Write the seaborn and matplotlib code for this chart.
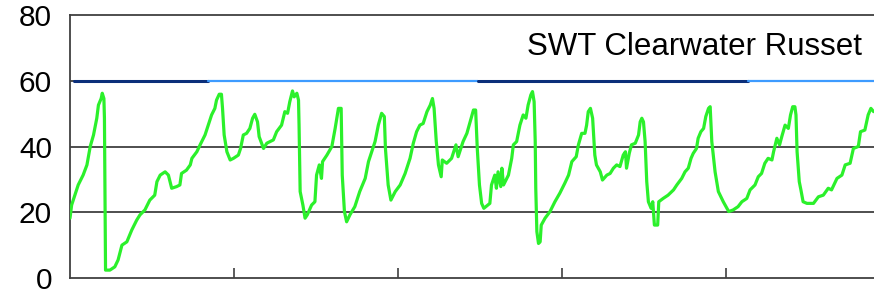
import matplotlib
matplotlib.use("Agg")
import matplotlib.pyplot as plt
import seaborn as sns
import pandas as pd

# ---- data (days, value) ----
days = [0.0, 0.3, 1.5, 2.4, 3.1, 3.7, 4.3, 4.9, 5.2, 5.7, 5.9, 6.2, 6.3, 6.4, 6.5,
        7.3, 8.2, 8.8, 9.5, 10.4, 11.3, 12.2, 12.8, 13.7, 14.6, 15.5, 15.9, 16.5,
        17.4, 18.0, 18.6, 19.5, 20.1, 20.4, 21.3, 22.0, 22.3, 23.2, 23.8, 24.7,
        25.3, 25.9, 26.5, 26.8, 27.3, 27.7, 27.9, 28.2, 28.7, 29.3, 29.9, 30.8,
        31.2, 31.7, 32.3, 32.9, 33.4, 33.8, 34.3, 34.6, 35.4, 36.0, 37.2, 37.8,
        38.7, 39.3, 39.8, 40.2, 40.7, 41.0, 41.5, 41.8, 41.9, 42.1, 42.6, 43.0,
        43.4, 44.2, 44.8, 45.1, 45.6, 46.0, 46.2, 47.0, 47.9, 48.5, 49.1, 49.6,
        49.8, 50.2, 50.6, 51.2, 52.1, 53.0, 54.0, 54.6, 55.2, 55.8, 56.4, 57.0,
        57.5, 57.7, 58.2, 58.7, 59.5, 60.4, 61.3, 62.2, 62.8, 63.4, 64.0, 64.6,
        65.3, 65.9, 66.3, 66.6, 67.0, 67.4, 67.9, 68.1, 68.9, 69.8, 70.6, 71.0,
        71.9, 72.6, 73.2, 73.8, 74.2, 74.5, 74.9, 75.3, 75.7, 76.8, 77.1, 77.7,
        78.0, 78.3, 78.8, 79.0, 79.3, 80.2, 80.8, 81.1, 81.7, 82.3, 82.9, 83.4,
        83.8, 84.3, 84.6, 84.9, 85.1, 85.2, 85.4, 85.7, 86.0, 86.2, 86.9, 87.8,
        88.7, 89.6, 90.5, 91.2, 91.8, 92.6, 93.0, 93.6, 94.2, 94.5, 94.8, 95.2,
        95.6, 96.0, 96.3, 97.0, 97.4, 98.2, 98.8, 99.4, 100.0, 100.6, 101.2,
        101.6, 101.8, 102.3, 102.7, 103.4, 104.0, 104.3, 104.6, 104.9, 105.2,
        105.5, 105.8, 106.3, 106.6, 106.9, 107.5, 107.7, 108.5, 109.4, 110.4,
        111.0, 111.9, 112.5, 113.1, 113.6, 114.0, 114.6, 114.9, 115.4, 115.9,
        116.3, 116.8, 117.1, 117.4, 118.0, 118.6, 119.5, 120.5, 121.3, 122.2,
        122.9, 123.8, 124.4, 125.3, 125.9, 126.5, 127.1, 127.7, 128.4, 128.7,
        129.3, 129.8, 130.2, 130.8, 131.4, 131.8, 132.2, 132.6, 132.8, 133.0,
        133.4, 133.7, 134.1, 134.8, 136.0, 136.9, 137.8, 138.7, 139.3, 140.3,
        141.2, 141.8, 142.7, 143.3, 144.2, 144.6, 145.4, 146.0, 146.5, 147.0]

values = [18.2, 22.2, 28.3, 31.3, 34.4, 40.0, 43.5, 48.6, 52.6, 54.6, 56.2, 54.6, 48.6, 26.3, 2.4,
          2.4, 3.4, 5.5, 10.0, 11.0, 14.6, 17.6, 19.2, 20.7, 23.7, 25.2, 29.3, 31.3,
          32.3, 31.3, 27.3, 27.8, 28.3, 31.8, 32.8, 34.4, 36.4, 38.4, 40.5, 43.5,
          46.5, 49.6, 51.6, 54.1, 55.9, 55.9, 51.6, 43.5, 38.4, 35.9, 36.4, 37.4,
          39.4, 43.5, 44.0, 45.5, 48.6, 49.8, 47.5, 43.0, 39.4, 41.0, 42.0, 44.5,
          46.5, 50.6, 50.1, 53.6, 56.9, 55.1, 56.2, 54.1, 46.5, 26.3, 22.2, 18.2,
          19.2, 22.2, 23.2, 31.3, 34.4, 30.3, 35.4, 37.4, 40.0, 45.5, 51.6, 51.6,
          31.3, 20.2, 17.1, 19.2, 21.7, 26.3, 30.3, 35.4, 38.4, 41.5, 46.5, 50.1,
          49.1, 39.4, 28.3, 23.7, 26.3, 28.3, 31.8, 36.4, 41.0, 44.5, 46.5, 47.0,
          50.6, 52.6, 54.6, 51.6, 41.5, 34.4, 30.8, 35.9, 34.9, 36.4, 40.5, 36.9,
          41.5, 44.0, 47.5, 51.1, 51.1, 39.4, 28.3, 22.7, 21.2, 22.7, 28.3, 31.3,
          27.3, 32.3, 27.8, 33.4, 28.3, 31.3, 36.4, 40.5, 41.5, 46.5, 49.6, 48.6,
          52.6, 55.7, 56.7, 53.6, 41.5, 27.3, 14.1, 10.5, 11.0, 16.1, 18.2, 20.2,
          23.2, 25.8, 28.8, 31.3, 35.4, 36.9, 40.5, 44.0, 44.0, 46.5, 50.6, 51.6,
          48.6, 37.4, 34.4, 32.3, 29.8, 31.3, 31.8, 33.4, 34.4, 33.9, 37.4,
          38.4, 33.4, 37.9, 40.5, 41.0, 43.5, 47.5, 48.6, 47.5, 41.5,
          29.3, 23.2, 21.2, 23.2, 16.1, 16.1, 23.2, 24.2, 25.2, 26.8,
          28.3, 30.3, 32.3, 33.4, 36.4, 37.9, 39.4, 42.5, 44.5, 45.5,
          49.1, 51.6, 52.1, 41.5, 32.3, 26.3, 23.2, 20.2, 20.7, 21.7,
          23.2, 24.2, 26.8, 28.3, 30.8, 31.8, 34.9, 36.4, 35.9, 38.4,
          42.5, 40.5, 43.0, 46.5, 45.5, 49.6, 52.1, 52.1, 49.6, 38.4,
          29.3, 26.8, 23.2, 22.7, 22.7, 24.7, 25.2, 27.3, 26.8, 30.3,
          31.3, 34.4, 34.9, 39.4, 40.0, 44.5, 45.0, 49.6, 51.6, 50.6]

# threshold line at 60, drawn as alternating segments
thr_days = [0.7, 25.2, 74.6, 124.0, 147.0]
thr_value = 60
thr_colors = ["#0b2f7a", "#3d9bff", "#0b2f7a", "#3d9bff"]

title = "SWT Clearwater Russet"
yticks = [0, 20, 40, 60, 80]
xticks = [30, 60, 90, 120]

df = pd.DataFrame({"day": days, "value": values})

sns.set_style("white")
plt.rcParams["font.family"] = ["Liberation Sans", "DejaVu Sans"]

fig = plt.figure(figsize=(8.74, 3.0), dpi=100)
ax = fig.add_axes([70 / 874, 22 / 300, 804 / 874, 263 / 300])

grid_col = "#404040"
for v in yticks[1:4]:
    ax.axhline(v, color=grid_col, lw=1.3, zorder=1)

for i, c in enumerate(thr_colors):
    seg = pd.DataFrame({"day": [thr_days[i], thr_days[i + 1]], "value": [thr_value, thr_value]})
    sns.lineplot(data=seg, x="day", y="value", ax=ax, color=c,
                 lw=2.2 if c == "#0b2f7a" else 1.6, zorder=2)

sns.lineplot(data=df, x="day", y="value", ax=ax, color="#2bf02b", lw=2.3, zorder=3)

ax.set_xlim(0, 147.07)
ax.set_ylim(0, 80)
ax.set_yticks(yticks)
ax.set_yticklabels([str(t) for t in yticks], fontsize=21.5)
ax.set_xticks(xticks)
ax.set_xticklabels([])
ax.tick_params(axis="x", direction="in", length=7.5, width=1.2, color=grid_col, bottom=True)
ax.tick_params(axis="y", length=0, pad=13, labelcolor="#000000")
ax.set_xlabel("")
ax.set_ylabel("")

for s in ["left", "bottom", "top"]:
    ax.spines[s].set_color(grid_col)
    ax.spines[s].set_linewidth(1.3)
ax.spines["right"].set_visible(False)

ax.text(144.9, 70.3, title, ha="right", va="center", fontsize=22.5, color="#000000")

fig.savefig("out.png", dpi=100)
